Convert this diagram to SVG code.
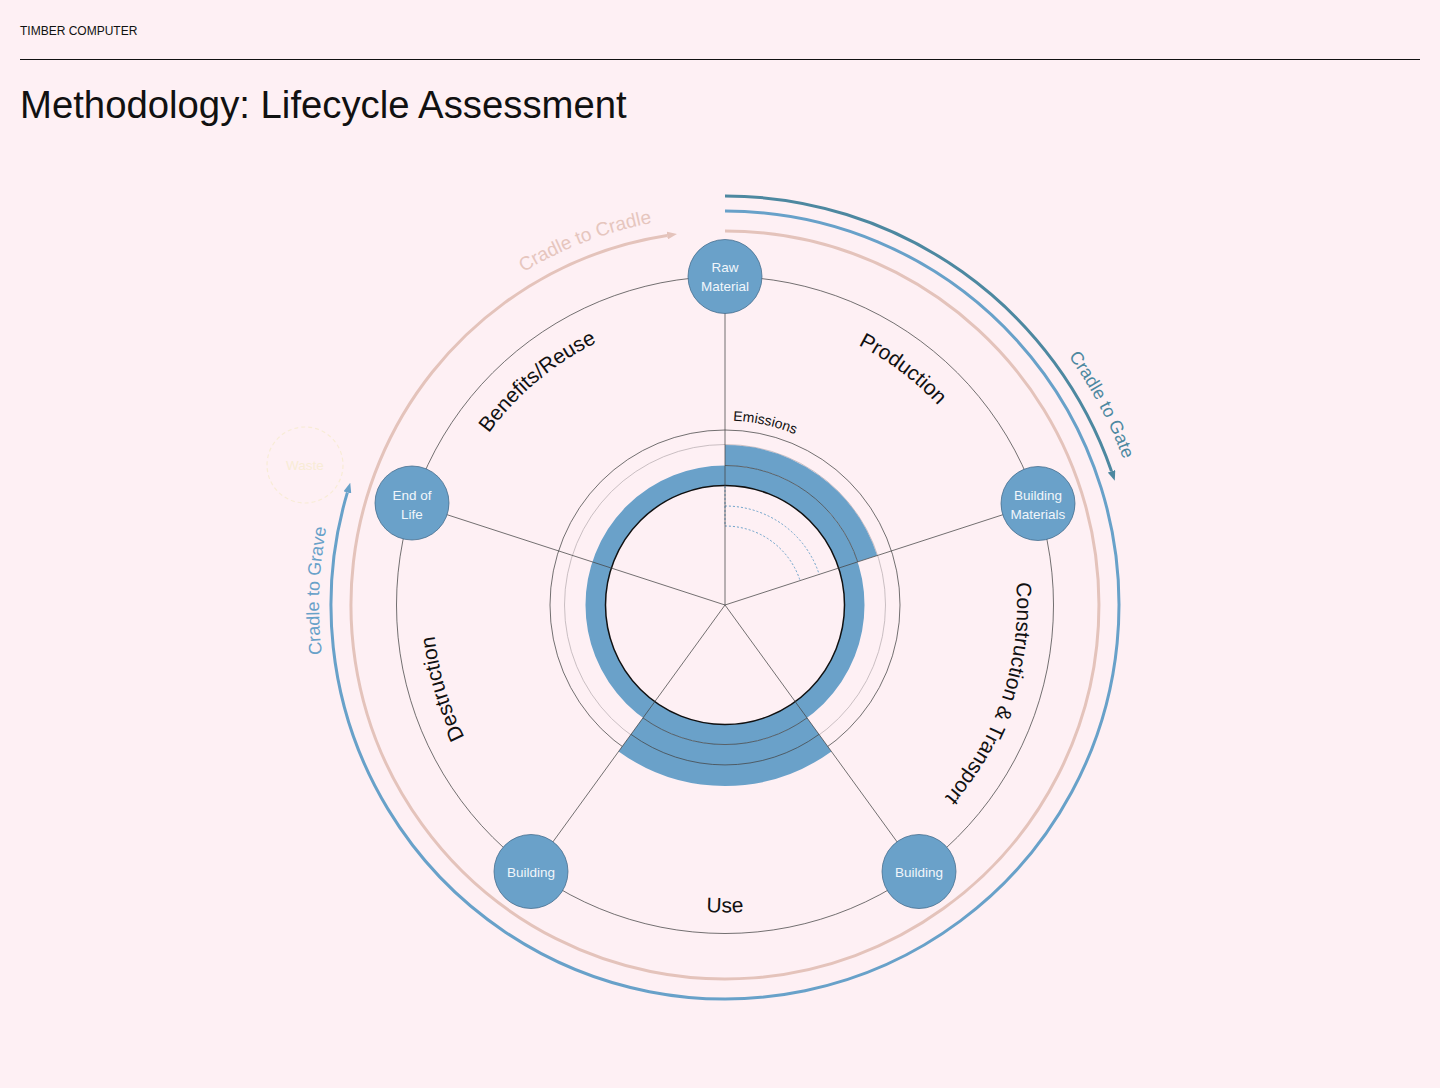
<svg xmlns="http://www.w3.org/2000/svg" width="1440" height="1088" viewBox="0 0 1440 1088">
<style>
.t{font-family:"Liberation Sans",Arial,sans-serif}
.lbl{font-family:"Liberation Sans",Arial,sans-serif;font-size:21px;fill:#111}
.node circle{fill:#6aa1c9;stroke:#41698a;stroke-width:0.75}
.node text{font-family:"Liberation Sans",Arial,sans-serif;font-size:13.5px;fill:#f1f6fb;text-anchor:middle}
.thin{fill:none;stroke:#444;stroke-width:0.75}
.spoke{stroke:#444;stroke-width:0.75}
.dash{fill:none;stroke:#6aa1c9;stroke-width:1;stroke-dasharray:2 2}
.band{fill:none;stroke:#6aa1c9}
</style>
<defs>
<marker id="mPink" viewBox="0 0 10 8" refX="0" refY="4" markerWidth="10" markerHeight="8" markerUnits="userSpaceOnUse" orient="auto"><path d="M0,0 L10,4 L0,8 z" fill="#e4c3bb"/></marker>
<marker id="mBlue" viewBox="0 0 10 8" refX="0" refY="4" markerWidth="10" markerHeight="8" markerUnits="userSpaceOnUse" orient="auto"><path d="M0,0 L10,4 L0,8 z" fill="#68a1c9"/></marker>
<marker id="mTeal" viewBox="0 0 10 8" refX="0" refY="4" markerWidth="10" markerHeight="8" markerUnits="userSpaceOnUse" orient="auto"><path d="M0,0 L10,4 L0,8 z" fill="#4d88a0"/></marker>
<path id="pC2C" d="M 422.7 360.2 A 389 389 0 0 1 785.8 220.8"/>
<path id="pC2Gate" d="M 949.7 245.4 A 424 424 0 0 1 1148.7 619.8"/>
<path id="pC2Grave" d="M 366.5 795.6 A 406 406 0 0 1 380.7 389.9"/>
<path id="pProd" d="M 709.7 313.4 A 292 292 0 0 1 1009.5 539.3"/>
<path id="pCons" d="M 973.7 452.0 A 292 292 0 0 1 832.5 876.5"/>
<path id="pUse" d="M 527.3 840.5 A 307.5 307.5 0 0 0 922.7 840.5"/>
<path id="pDest" d="M 563.8 848.5 A 292 292 0 0 1 457.2 488.6"/>
<path id="pBen" d="M 437.4 554.3 A 292 292 0 0 1 725 313"/>
<path id="pEm" d="M 733.0 420.7 A 184.5 184.5 0 0 1 866.3 486.4"/>
</defs>
<rect width="1440" height="1088" fill="#fef0f4"/>
<g id="header">
<text class="t" x="20" y="35" font-size="12" fill="#111">TIMBER COMPUTER</text>
<line x1="20" y1="59.5" x2="1420" y2="59.5" stroke="#111" stroke-width="1"/>
<text class="t" x="20" y="118" font-size="38.3" fill="#111">Methodology: Lifecycle Assessment</text>
</g>
<g id="connectors">
<circle class="thin" cx="725" cy="605" r="328.5"/>
<path d="M 725 231 A 374 374 0 1 1 667.1 235.5" fill="none" stroke="#e4c3bb" stroke-width="3" marker-end="url(#mPink)"/>
<path d="M 725 211 A 394 394 0 1 1 347.4 492.4" fill="none" stroke="#68a1c9" stroke-width="3" marker-end="url(#mBlue)"/>
<path d="M 725 196 A 409 409 0 0 1 1111.5 471.2" fill="none" stroke="#4d88a0" stroke-width="3" marker-end="url(#mTeal)"/>
<circle class="thin" cx="725" cy="605" r="175"/>
<circle cx="725" cy="605" r="160.5" fill="none" stroke="#b8aeb2" stroke-width="0.75"/>
<circle class="band" cx="725" cy="605" r="129.5" stroke-width="20"/>
<path class="band" d="M 725 455.25 A 149.75 149.75 0 0 1 867.4 558.7" stroke-width="20.5"/>
<path class="band" d="M 819.2 734.6 A 160.25 160.25 0 0 1 630.8 734.6" stroke-width="41.5"/>
<path class="thin" d="M 725 465.5 A 139.5 139.5 0 0 1 857.7 561.9"/>
<path class="thin" d="M 807.0 717.9 A 139.5 139.5 0 0 1 643.0 717.9"/>
<path class="thin" d="M 819.0 734.4 A 160 160 0 0 1 631.0 734.4"/>
<circle cx="725" cy="605" r="119.5" fill="none" stroke="#111" stroke-width="1.5"/>
<path class="dash" d="M 725 486 L 725 526"/>
<path class="dash" d="M 725 506 A 99 99 0 0 1 819.2 574.4"/>
<path class="dash" d="M 725 526 A 79 79 0 0 1 800.1 580.6"/>
<line class="spoke" x1="725" y1="605" x2="725" y2="276.5"/>
<line class="spoke" x1="725" y1="605" x2="1037.4" y2="503.5"/>
<line class="spoke" x1="725" y1="605" x2="918.1" y2="870.8"/>
<line class="spoke" x1="725" y1="605" x2="531.9" y2="870.8"/>
<line class="spoke" x1="725" y1="605" x2="412.6" y2="503.5"/>
</g>
<g id="labels">
<text class="t" font-size="19" fill="#e6c6be"><textPath href="#pC2C" startOffset="50%" text-anchor="middle">Cradle to Cradle</textPath></text>
<text class="t" font-size="18" fill="#4d88a0"><textPath href="#pC2Gate" startOffset="50%" text-anchor="middle">Cradle to Gate</textPath></text>
<text class="t" font-size="18" fill="#68a1c9"><textPath href="#pC2Grave" startOffset="50%" text-anchor="middle">Cradle to Grave</textPath></text>
<text class="lbl"><textPath href="#pProd" startOffset="50%" text-anchor="middle">Production</textPath></text>
<text class="lbl"><textPath href="#pCons" startOffset="50%" text-anchor="middle">Construction &amp; Transport</textPath></text>
<text class="lbl"><textPath href="#pUse" startOffset="50%" text-anchor="middle">Use</textPath></text>
<text class="lbl"><textPath href="#pDest" startOffset="50%" text-anchor="middle">Destruction</textPath></text>
<text class="lbl"><textPath href="#pBen" startOffset="50%" text-anchor="middle">Benefits/Reuse</textPath></text>
<text class="t" font-size="14" fill="#111"><textPath href="#pEm">Emissions</textPath></text>
</g>
<g id="node-raw-material" class="node"><circle cx="725" cy="276.5" r="37"/><text x="725" y="271.5">Raw</text><text x="725" y="290.5">Material</text></g>
<g id="node-building-materials" class="node"><circle cx="1038" cy="503.5" r="37"/><text x="1038" y="499.5">Building</text><text x="1038" y="518.5">Materials</text></g>
<g id="node-building-right" class="node"><circle cx="919" cy="871.5" r="37"/><text x="919" y="877">Building</text></g>
<g id="node-building-left" class="node"><circle cx="531" cy="871.5" r="37"/><text x="531" y="877">Building</text></g>
<g id="node-end-of-life" class="node"><circle cx="412" cy="503" r="37"/><text x="412" y="499.5">End of</text><text x="412" y="518.5">Life</text></g>
<g id="node-waste"><circle cx="305" cy="465" r="38" fill="none" stroke="#f8ecd6" stroke-width="1.2" stroke-dasharray="4 3"/><text class="t" x="305" y="470" font-size="13.5" fill="#f8ecd6" text-anchor="middle">Waste</text></g>
</svg>
